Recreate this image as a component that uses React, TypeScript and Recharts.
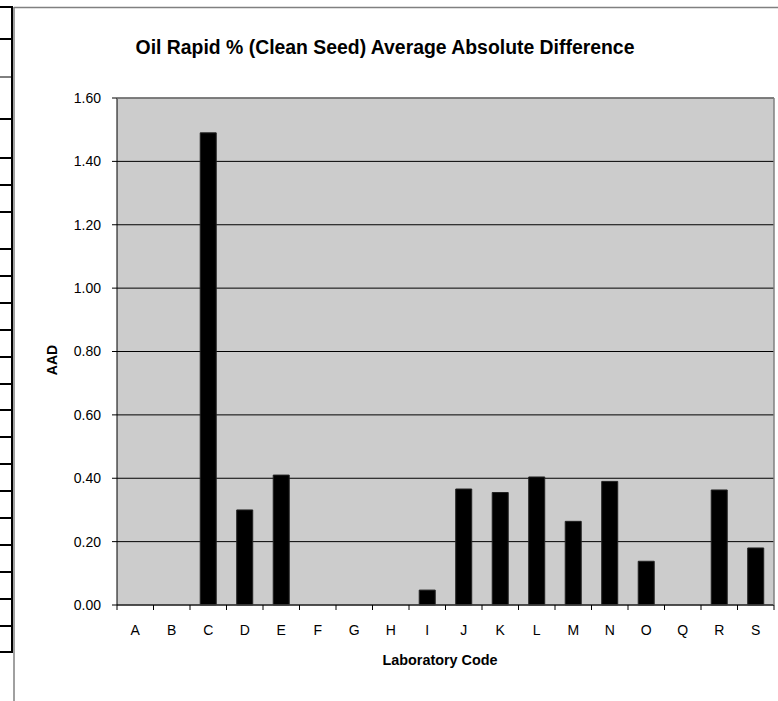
import { BarChart, Bar, XAxis, YAxis, CartesianGrid } from 'recharts'

const labs = ['A', 'B', 'C', 'D', 'E', 'F', 'G', 'H', 'I', 'J', 'K', 'L', 'M', 'N', 'O', 'Q', 'R', 'S']
const aad = [0, 0, 1.49, 0.3, 0.41, 0, 0, 0, 0.047, 0.366, 0.355, 0.404, 0.264, 0.39, 0.138, 0, 0.363, 0.18]
const yTicks = [0, 0.2, 0.4, 0.6, 0.8, 1.0, 1.2, 1.4, 1.6]

// left edge: bits of a spreadsheet table next to the chart
const tableRows = [7, 39, 77, 119, 158, 185, 212, 249, 276, 303, 330, 357, 384, 410, 437, 464, 491, 518, 545, 572, 599, 626, 652]

const data = labs.map((lab, i) => ({ lab, aad: aad[i] }))

const W = 778
const H = 701
const M = { top: 98, right: 4, bottom: 66, left: 57 }
const Y_W = 60
const plotW = W - M.left - Y_W - M.right
const band = plotW / labs.length
const font = '"Liberation Sans", Arial, sans-serif'

function LabTick(props: any) {
  const { x, y, payload, index } = props
  return (
    <g>
      <line x1={x - band / 2} x2={x - band / 2} y1={y} y2={y + 5} stroke="#000" />
      {index === labs.length - 1 && <line x1={x + band / 2} x2={x + band / 2} y1={y} y2={y + 5} stroke="#000" />}
      <text x={x} y={y + 30} textAnchor="middle" fontSize={14} fill="#000" fontFamily={font}>
        {payload.value}
      </text>
    </g>
  )
}

export default function App() {
  return (
    <div style={{ position: 'absolute', left: 0, top: 0, width: W, height: H, background: '#fff', fontFamily: font }}>
      <svg width={W} height={H} style={{ position: 'absolute', left: 0, top: 0 }}>
        <line x1={12} x2={12} y1={6} y2={653} stroke="#000" strokeWidth={2} />
        {tableRows.map((y, i) => (
          <line key={i} x1={0} x2={12} y1={y} y2={y} stroke="#000" strokeWidth={y === 77 ? 1 : 2} />
        ))}
        <line x1={14} x2={14} y1={7} y2={H} stroke="#808080" strokeWidth={1.5} />
        <line x1={14} x2={W} y1={7.5} y2={7.5} stroke="#808080" strokeWidth={1.5} />
      </svg>
      <div style={{ position: 'absolute', left: 0, top: 0 }}>
        <BarChart width={W} height={H} data={data} margin={M} barCategoryGap="28%">
          <CartesianGrid vertical={false} fill="#cccccc" stroke="#000" strokeOpacity={1} />
          <XAxis
            dataKey="lab"
            height={30}
            interval={0}
            tickLine={false}
            tickSize={0}
            tickMargin={0}
            tick={<LabTick />}
            axisLine={{ stroke: '#404040', strokeWidth: 1.5 }}
          />
          <YAxis
            width={Y_W}
            domain={[0, 1.6]}
            ticks={yTicks}
            tickFormatter={(v: number) => v.toFixed(2)}
            tickSize={5}
            tickMargin={11}
            tick={{ fontSize: 14, fill: '#000', fontFamily: font }}
            tickLine={{ stroke: '#000' }}
            axisLine={{ stroke: '#000' }}
          />
          <Bar dataKey="aad" fill="#000" stroke="#222" isAnimationActive={false} />
        </BarChart>
      </div>
      <svg width={W} height={H} style={{ position: 'absolute', left: 0, top: 0, pointerEvents: 'none' }}>
        <line x1={117} x2={774} y1={98} y2={98} stroke="#808080" strokeWidth={1.5} />
        <line x1={774} x2={774} y1={98} y2={605} stroke="#808080" strokeWidth={1.5} />
        <text x={385} y={54} textAnchor="middle" fontSize={19.4} fontWeight="bold" fill="#000" fontFamily={font}>
          Oil Rapid % (Clean Seed) Average Absolute Difference
        </text>
        <text x={440} y={665} textAnchor="middle" fontSize={14.4} fontWeight="bold" fill="#000" fontFamily={font}>
          Laboratory Code
        </text>
        <text
          x={57}
          y={360}
          textAnchor="middle"
          fontSize={14}
          fontWeight="bold"
          fill="#000"
          fontFamily={font}
          transform="rotate(-90 57 360)"
        >
          AAD
        </text>
      </svg>
    </div>
  )
}
